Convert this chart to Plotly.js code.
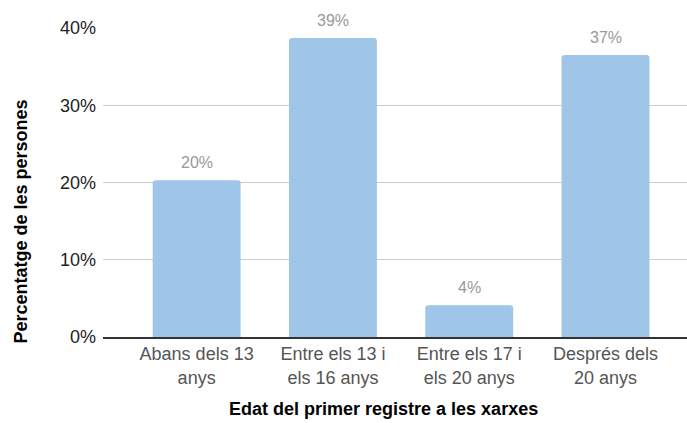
<!DOCTYPE html>
<html>
<head>
<meta charset="utf-8">
<script src="https://cdn.plot.ly/plotly-3.0.1.min.js"></script>
<style>html,body{margin:0;padding:0;background:#fff;}#chart{width:687px;height:423px;}</style>
</head>
<body>
<div id="chart"></div>
<script>
const categories = ["Abans dels 13<br>anys", "Entre els 13 i<br>els 16 anys", "Entre els 17 i<br>els 20 anys", "Després dels<br>20 anys"];
const values = [20.3, 38.7, 4.1, 36.5];
const valueLabels = ["20%", "39%", "4%", "37%"];
const yTicks = [0, 10, 20, 30, 40];
const yTickLabels = ["0%", "10%", "20%", "30%", "40%"];
const xTitle = "Edat del primer registre a les xarxes";
const yTitle = "Percentatge de les persones";

const FONT = "Liberation Sans, Arial, Helvetica, sans-serif";

const trace = {
  type: "bar",
  x: categories,
  y: values,
  width: 0.645,
  marker: {color: "#9fc5e8", cornerradius: 3},
  hoverinfo: "skip"
};

const valueAnnotations = categories.map((c, i) => ({
  x: c, y: values[i], xref: "x", yref: "y",
  text: valueLabels[i],
  showarrow: false,
  xanchor: "center", yanchor: "bottom",
  yshift: 7,
  font: {family: FONT, size: 16, color: "#999999"}
}));

const layout = {
  width: 687, height: 423,
  margin: {l: 103, r: 0, t: 28, b: 86, pad: 0},
  paper_bgcolor: "#ffffff",
  plot_bgcolor: "#ffffff",
  showlegend: false,
  font: {family: FONT, size: 18, color: "#222222"},
  xaxis: {
    type: "category",
    range: [-0.687, 3.598],
    showgrid: false,
    zeroline: false,
    showline: true,
    linecolor: "#333333",
    linewidth: 1.5,
    ticks: "",
    tickfont: {family: FONT, size: 18, color: "#555555"},
    fixedrange: true
  },
  yaxis: {
    range: [0, 40],
    tickmode: "array",
    tickvals: yTicks,
    ticktext: yTickLabels,
    showgrid: true,
    gridcolor: "#cccccc",
    gridwidth: 1,
    zeroline: false,
    showline: false,
    ticks: "",
    ticklabelstandoff: 6,
    tickfont: {family: FONT, size: 18, color: "#222222"},
    fixedrange: true
  },
  annotations: valueAnnotations.concat([
    {text: "<b>" + xTitle + "</b>", xref: "paper", yref: "paper", x: 0.48, y: 0, yshift: -72, xanchor: "center", yanchor: "middle", showarrow: false, font: {family: FONT, size: 18, color: "#000000"}},
    {text: "<b>" + yTitle + "</b>", xref: "paper", yref: "paper", x: 0, xshift: -83, y: 0.5, yshift: -39, textangle: -90, xanchor: "center", yanchor: "middle", showarrow: false, font: {family: FONT, size: 18, color: "#000000"}}
  ])
};

Plotly.newPlot("chart", [trace], layout, {displayModeBar: false, staticPlot: true});
</script>
</body>
</html>
